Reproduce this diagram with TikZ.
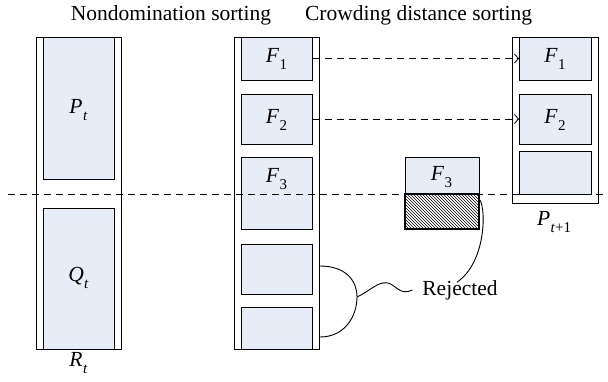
\documentclass[tikz,border=0pt]{standalone}
\usepackage{fontspec}
\setmainfont{Liberation Serif}
\usetikzlibrary{arrows.meta,patterns}
\definecolor{boxfill}{RGB}{230,237,246}
\newcommand\lbl[2]{\textit{#1}\kern0.02em\raisebox{-0.3em}{\fontsize{15}{15}\selectfont #2}}
\begin{document}
\begin{tikzpicture}[x=1pt,y=-1pt,
  font=\fontsize{21.5}{25}\selectfont,
  outerbox/.style={draw, line width=0.9pt, inner sep=0pt, outer sep=0pt},
  inbox/.style={draw, fill=boxfill, line width=0.9pt, inner sep=0pt, outer sep=0pt},
  txt/.style={inner sep=0pt, outer sep=0pt},
  flow/.style={line width=0.8pt, dash pattern=on 7pt off 5pt, -{Straight Barb[length=4pt,width=9pt]}},
  cutline/.style={line width=0.8pt, dash pattern=on 7pt off 5pt},
  brace/.style={line width=0.9pt}]
\useasboundingbox (0,0) rectangle (608,381);

% titles
\node[txt] (t1) at (171,15) {Nondomination sorting};
\node[txt] (t2) at (418.6,15) {Crowding distance sorting};

% left column R_t
\node[outerbox, minimum width=85pt, minimum height=312pt] (R) at (78.5,193) {};
\node[inbox, minimum width=71pt, minimum height=142pt] (P) at (78.5,108) {};
\node[inbox, minimum width=71pt, minimum height=141pt] (Q) at (78.5,278.5) {};
\node[txt] (Pl) at (78.5,110) {\lbl{P}{\textit{t}}};
\node[txt] (Ql) at (78.5,278) {\lbl{Q}{\textit{t}}};
\node[txt] (Rl) at (78.5,363) {\lbl{R}{\textit{t}}};

% middle column
\node[outerbox, minimum width=85.5pt, minimum height=312pt] (M) at (276.8,193) {};
\node[inbox, minimum width=71.7pt, minimum height=43pt] (F1) at (276.85,58.5) {};
\node[inbox, minimum width=71.7pt, minimum height=50pt] (F2) at (276.85,119) {};
\node[inbox, minimum width=71.7pt, minimum height=72pt] (F3) at (276.85,193) {};
\node[inbox, minimum width=71.7pt, minimum height=50pt] (B4) at (276.85,269) {};
\node[inbox, minimum width=71.7pt, minimum height=42pt] (B5) at (276.85,328) {};
\node[txt] (F1l) at (276.5,59) {\lbl{F}{1}};
\node[txt] (F2l) at (276.5,120) {\lbl{F}{2}};
\node[txt] (F3l) at (276.5,179) {\lbl{F}{3}};

% split F3
\node[inbox, minimum width=74pt, minimum height=37pt] (S3) at (442,175.5) {};
\node[draw, line width=1.1pt, pattern=north west lines, inner sep=0pt, outer sep=0pt,
      minimum width=74pt, minimum height=35pt] (H3) at (442,211.5) {};
\node[txt] (S3l) at (441.5,177) {\lbl{F}{3}};

% right column P_{t+1}
\node[outerbox, minimum width=86pt, minimum height=166pt] (N) at (555,120) {};
\node[inbox, minimum width=72pt, minimum height=43pt] (G1) at (555,58.5) {};
\node[inbox, minimum width=72pt, minimum height=50pt] (G2) at (555,119) {};
\node[inbox, minimum width=72pt, minimum height=43pt] (G3) at (555,172.5) {};
\node[txt] (G1l) at (555,59) {\lbl{F}{1}};
\node[txt] (G2l) at (555,120) {\lbl{F}{2}};
\node[txt] (Nl) at (554,222) {\lbl{P}{\textit{t}+1}};

% arrows
\draw[flow] (F1.east) -- (G1.west);
\draw[flow] (F2.east) -- (G2.west);

% cut line
\coordinate (c0) at (8,194);
\coordinate (c1) at (608,194);
\draw[cutline] (c0) -- (c1);

% rejected
\node[txt] (rej) at (460,290) {Rejected};
\coordinate (b1) at (320,266);
\coordinate (b2) at (320,337);
\coordinate (bt) at (357,297);
\coordinate (h1) at (480,200);
\coordinate (we) at ([xshift=-10pt]rej.west);
\draw[brace] (b1) .. controls (345,266) and (357,280) .. (bt)
  .. controls (357,316) and (345,337) .. (b2);
\draw[brace] (bt) .. controls (370,291) and (378,281) .. (388,283)
  .. controls (396,285) and (400,296) .. (we);
\draw[brace] (h1) .. controls (486,210) and (486,262) .. ([xshift=-3pt,yshift=-2pt]rej.north);
\end{tikzpicture}
\end{document}
